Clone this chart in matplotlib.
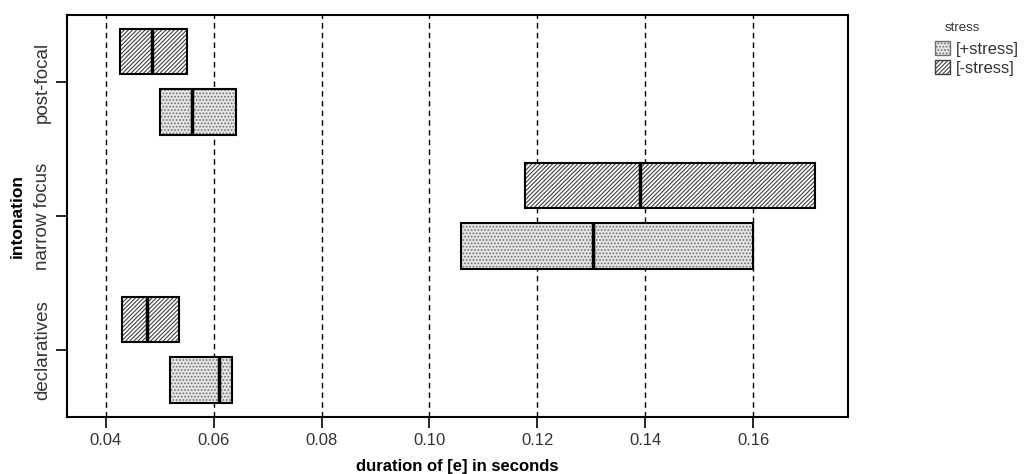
import numpy as np
import matplotlib.pyplot as plt
from matplotlib.patches import Patch

plt.rcParams['font.family'] = ['Liberation Sans', 'DejaVu Sans']
plt.rcParams['hatch.linewidth'] = 0.8

categories = ['declaratives', 'narrow focus', 'post-focal']
stress_levels = ['[+stress]', '[-stress]']

# box edges (q1, q3) and medians
plus_q1 = [0.0519, 0.1058, 0.0501]
plus_med = [0.0609, 0.1303, 0.0559]
plus_q3 = [0.0633, 0.1600, 0.0642]

minus_q1 = [0.0430, 0.1178, 0.0426]
minus_med = [0.0477, 0.1390, 0.0485]
minus_q3 = [0.0535, 0.1714, 0.0550]

xticks = [0.04, 0.06, 0.08, 0.10, 0.12, 0.14, 0.16]

fig = plt.figure(figsize=(10.26, 4.74), dpi=100)
ax = fig.add_axes([0.0653, 0.1203, 0.7612, 0.8481])

y = np.arange(len(categories))
off = 0.224
h = 0.336

for x in xticks:
    ax.axvline(x, color='black', ls=(0, (4, 3)), lw=1, zorder=0)

dot_fc, dot_hc, dot_h = '#e4e4e4', '#707070', '.....'
diag_fc, diag_hc, diag_h = 'white', '#404040', '////////'

styles = [
    (plus_q1, plus_med, plus_q3, -off, dot_fc, dot_hc, dot_h),
    (minus_q1, minus_med, minus_q3, off, diag_fc, diag_hc, diag_h),
]
for q1, med, q3, dy, fc, hc, hatch in styles:
    q1 = np.array(q1)
    q3 = np.array(q3)
    ax.barh(y + dy, q3 - q1, left=q1, height=h, color=fc, edgecolor=hc,
            hatch=hatch, linewidth=0, zorder=2)
    ax.barh(y + dy, q3 - q1, left=q1, height=h, fill=False,
            edgecolor='black', linewidth=1.5, zorder=3)
    ax.vlines(med, y + dy - h / 2, y + dy + h / 2, color='black', lw=2.5, zorder=4)

ax.set_xlim(0.0328, 0.1776)
ax.set_ylim(-0.5, 2.5)
ax.set_xticks(xticks)
ax.set_xticklabels(['%.2f' % v for v in xticks], fontsize=12, color='#333333')
ax.set_yticks(y)
ax.set_yticklabels(categories, rotation=90, va='center', fontsize=13.5, color='#333333')
ax.tick_params(axis='both', length=8, width=1.2, direction='out')
for s in ax.spines.values():
    s.set_linewidth(1.5)

ax.set_xlabel('duration of [e] in seconds', fontsize=12, fontweight='bold', labelpad=8)
ax.set_ylabel('intonation', fontsize=12.5, fontweight='bold', labelpad=7)

handles = [
    Patch(facecolor=dot_fc, edgecolor=dot_hc, hatch=dot_h, label=stress_levels[0]),
    Patch(facecolor=diag_fc, edgecolor=diag_hc, hatch=diag_h, label=stress_levels[1]),
]
fig.text(0.921, 0.941, 'stress', fontsize=9.5, color='#333333', va='center')
leg = fig.legend(handles=handles, loc='upper left',
                 bbox_to_anchor=(0.905, 0.927), frameon=False, fontsize=12,
                 handlelength=0.9, handleheight=0.9, borderaxespad=0,
                 handletextpad=0.35, labelspacing=0.2)
for t in leg.get_texts():
    t.set_color('#333333')

fig.savefig('out.png', dpi=100)
